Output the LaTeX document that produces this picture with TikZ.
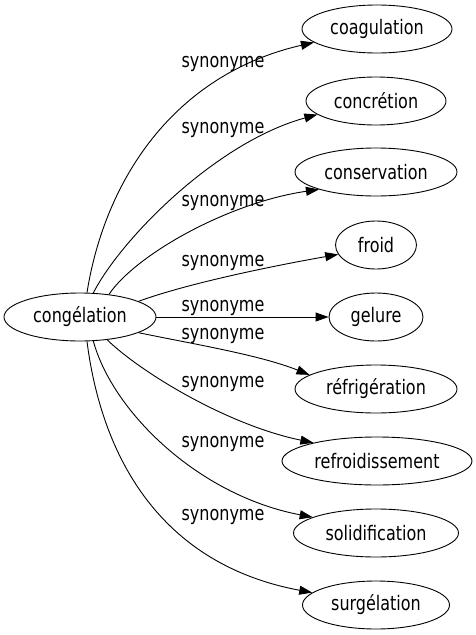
\documentclass[tikz,border=0pt]{standalone}
\usepackage{fontspec}
\setmainfont[FakeStretch=0.8]{DejaVu Sans}
\usetikzlibrary{shapes.geometric,arrows.meta}

\tikzset{
  word/.style={draw,ellipse,line width=0.9pt,minimum height=48pt,inner sep=0pt,font=\fontsize{20}{24}\selectfont},
  syn/.style={draw,line width=0.9pt,-{Triangle[length=13pt,width=9pt]}},
  synlabel/.style={inner sep=0pt,font=\fontsize{20}{24}\selectfont}
}

\begin{document}
\begin{tikzpicture}[x=1pt,y=-1pt]
      \useasboundingbox (0,0) rectangle (476,635);

      % Mitte
      \node[word,minimum width=152pt] (congelation) at (80,317) {congélation};

      % Synonyme
      \node[word,minimum width=150pt] (coagulation) at (377,29) {coagulation};
      \node[word,minimum width=140pt] (concretion) at (376,101) {concrétion};
      \node[word,minimum width=162pt] (conservation) at (376,172) {conservation};
      \node[word,minimum width=81pt] (froid) at (376,245) {froid};
      \node[word,minimum width=94pt] (gelure) at (376,317) {gelure};
      \node[word,minimum width=162pt] (refrigeration) at (376,389) {réfrigération};
      \node[word,minimum width=190pt] (refroidissement) at (377,461) {refroidissement};
      \node[word,minimum width=165pt] (solidification) at (376,533) {solidification};
      \node[word,minimum width=147pt] (surgelation) at (376,605) {surgélation};

      % Kanten
      \draw[syn] (congelation.74) .. controls +(18,-113) and +(-140,32) .. (coagulation.192);
      \draw[syn] (congelation.61) .. controls +(27,-53) and +(-102,28) .. (concretion.193);
      \draw[syn] (congelation.38) .. controls +(27,-40) and +(-90,13) .. (conservation.197);
      \draw[syn] (congelation.15) .. controls +(52,-19) and +(-57,10) .. (froid.194);
      \draw[syn] (congelation.0) -- (gelure.180);
      \draw[syn] (congelation.-15) .. controls +(53,11) and +(-50,-20) .. (refrigeration.168);
      \draw[syn] (congelation.-40) .. controls +(33,32) and +(-87,-18) .. (refroidissement.164);
      \draw[syn] (congelation.-61) .. controls +(19,70) and +(-115,-22) .. (solidification.166);
      \draw[syn] (congelation.-74) .. controls +(16,125) and +(-145,-27) .. (surgelation.169);

      % Beschriftungen
      \node[synlabel] (l1) at (223,64) {synonyme};
      \node[synlabel] (l2) at (223,130) {synonyme};
      \node[synlabel] (l3) at (223,203) {synonyme};
      \node[synlabel] (l4) at (223,263) {synonyme};
      \node[synlabel] (l5) at (223,308) {synonyme};
      \node[synlabel] (l6) at (223,336) {synonyme};
      \node[synlabel] (l7) at (223,384) {synonyme};
      \node[synlabel] (l8) at (223,444) {synonyme};
      \node[synlabel] (l9) at (223,517) {synonyme};
    \end{tikzpicture}
\end{document}
